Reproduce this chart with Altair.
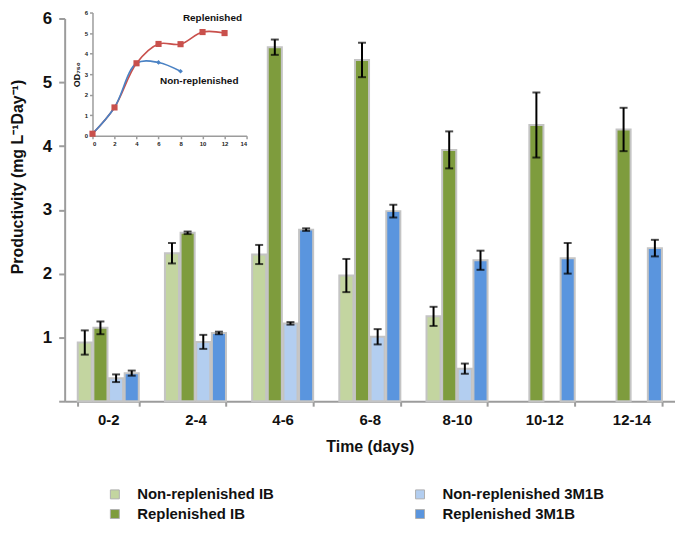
import altair as alt
import pandas as pd

F = "Liberation Sans"

# ---------------- main chart data ----------------
categories = ["0-2", "2-4", "4-6", "6-8", "8-10", "10-12", "12-14"]
series_names = ["Non-replenished IB", "Replenished IB", "Non-replenished 3M1B", "Replenished 3M1B"]
series_colors = ["#c3d5a0", "#7e9c3d", "#b3cef0", "#5a95de"]

nonrep_ib = [0.92, 2.32, 2.30, 1.97, 1.33, None, None]
nonrep_ib_err = [0.19, 0.16, 0.15, 0.26, 0.15, None, None]
rep_ib = [1.15, 2.64, 5.55, 5.35, 3.94, 4.33, 4.26]
rep_ib_err = [0.10, 0.02, 0.12, 0.27, 0.29, 0.51, 0.34]
nonrep_3m1b = [0.36, 0.93, 1.22, 1.01, 0.51, None, None]
nonrep_3m1b_err = [0.06, 0.11, 0.02, 0.12, 0.08, None, None]
rep_3m1b = [0.44, 1.07, 2.69, 2.98, 2.21, 2.24, 2.40]
rep_3m1b_err = [0.04, 0.02, 0.02, 0.10, 0.15, 0.24, 0.13]

y_ticks = [0, 1, 2, 3, 4, 5, 6]

# ---------------- inset data ----------------
inset_days_rep = [0, 2, 4, 6, 8, 10, 12]
inset_od_rep = [0.1, 1.38, 3.53, 4.47, 4.46, 5.05, 5.0]
inset_days_nonrep = [0, 2, 4, 6, 8]
inset_od_nonrep = [0.1, 1.38, 3.53, 3.57, 3.14]
inset_x_ticks = [0, 2, 4, 6, 8, 10, 12, 14]
inset_y_ticks = [0, 1, 2, 3, 4, 5, 6]
ann_text = ["Replenished", "Non-replenished"]
ann_x = [10.9, 9.7]
ann_y = [5.75, 2.66]

# ---------------- build tables ----------------
vals = [nonrep_ib, rep_ib, nonrep_3m1b, rep_3m1b]
errs = [nonrep_ib_err, rep_ib_err, nonrep_3m1b_err, rep_3m1b_err]
rows = []
for s, v, e in zip(series_names, vals, errs):
    for c, vv, ee in zip(categories, v, e):
        if vv is not None:
            rows.append({"cat": c, "series": s, "value": vv, "lo": vv - ee, "hi": vv + ee})
df = pd.DataFrame(rows)

W, H = 614, 385
TOP = 9
GRAY = "#9c9c9c"

x_main = alt.X(
    "cat:N", sort=categories,
    scale=alt.Scale(paddingInner=0.3, paddingOuter=0.15),
    axis=alt.Axis(orient="bottom", tickBand="extent", labelAngle=0,
                  domainColor=GRAY, domainWidth=2, tickColor=GRAY, tickWidth=2, tickSize=5,
                  labelFont=F, labelFontSize=15, labelFontWeight="bold", labelColor="#111",
                  labelPadding=6, titleFont=F, titleFontSize=16, titleFontWeight="bold",
                  titleColor="#111", titlePadding=12),
    title="Time (days)")
xoff = alt.XOffset("series:N", sort=series_names, scale=alt.Scale(paddingInner=0.1))
y_axis = alt.Axis(orient="left", values=y_ticks, format="d",
                  labelExpr="datum.value == 0 ? '' : datum.label",
                  domainColor=GRAY, domainWidth=2, tickColor=GRAY, tickWidth=2, tickSize=6,
                  labelFont=F, labelFontSize=17, labelFontWeight="bold", labelColor="#111",
                  labelPadding=7, titleFont=F, titleFontSize=16, titleFontWeight="bold",
                  titleColor="#111", titleX=-47, titleY=159, titleAngle=270,
                  titleAlign="center", titleBaseline="middle")
y_scale = alt.Scale(domain=[0, 6], nice=False)

bars = alt.Chart(df).mark_bar(stroke="#c4c4c4", strokeWidth=2).encode(
    x=x_main, xOffset=xoff,
    y=alt.Y("value:Q", scale=y_scale, axis=y_axis, title="Productivity (mg L⁻¹Day⁻¹)"),
    color=alt.Color("series:N",
                    scale=alt.Scale(domain=series_names, range=series_colors),
                    legend=alt.Legend(orient="none", legendX=43, legendY=471, columns=2,
                                      columnPadding=139, rowPadding=4, symbolType="square",
                                      symbolSize=81, symbolStrokeColor="#b0b0b0",
                                      symbolStrokeWidth=1, labelFont=F, labelFontSize=15,
                                      labelFontWeight="bold", labelColor="#111",
                                      labelOffset=15, labelLimit=300, padding=0),
                    title=None),
)
err_rule = alt.Chart(df).mark_rule(color="black", strokeWidth=2).encode(
    x=x_main, xOffset=xoff, y=alt.Y("lo:Q", scale=y_scale), y2="hi:Q")
cap_lo = alt.Chart(df).mark_tick(color="black", thickness=2, size=8).encode(
    x=x_main, xOffset=xoff, y=alt.Y("lo:Q", scale=y_scale))
cap_hi = alt.Chart(df).mark_tick(color="black", thickness=2, size=8).encode(
    x=x_main, xOffset=xoff, y=alt.Y("hi:Q", scale=y_scale))

main = alt.layer(bars, err_rule, cap_lo, cap_hi)

# ---------------- inset ----------------
df_rep = pd.DataFrame({"day": inset_days_rep, "od": inset_od_rep})
df_non = pd.DataFrame({"day": inset_days_nonrep, "od": inset_od_nonrep})
df_ann = pd.DataFrame({"day": ann_x, "od": ann_y, "label": ann_text})

INSET_BOTTOM = 118
INSET_TOP = -6
xi_scale = alt.Scale(domain=[0, 14], range=[28, 183], nice=False)
yi_scale = alt.Scale(domain=[0, 6], range=[INSET_BOTTOM, INSET_TOP], nice=False)
xi_axis = alt.Axis(orient="bottom", offset=-(H - INSET_BOTTOM), values=inset_x_ticks,
                   domainColor=GRAY, domainWidth=1.5, tickColor=GRAY, tickWidth=1.5, tickSize=3,
                   labelFont=F, labelFontSize=6, labelFontWeight="bold", labelColor="#222",
                   labelPadding=2, grid=False)
yi_axis = alt.Axis(orient="left", offset=-28, values=inset_y_ticks,
                   domainColor=GRAY, domainWidth=1.5, tickColor=GRAY, tickWidth=1.5, tickSize=3,
                   labelFont=F, labelFontSize=6, labelFontWeight="bold", labelColor="#222",
                   labelPadding=2, titleFont=F, titleFontSize=9, titleFontWeight="bold",
                   titleColor="#111", titlePadding=3, grid=False)
xi = alt.X("day:Q", scale=xi_scale, axis=xi_axis, title=None)
yi = alt.Y("od:Q", scale=yi_scale, axis=yi_axis, title="OD₇₅₀")

rep_line = alt.Chart(df_rep).mark_line(interpolate="catmull-rom", color="#c9504c",
                                       strokeWidth=1.6).encode(x=xi, y=yi)
non_line = alt.Chart(df_non).mark_line(interpolate="catmull-rom", color="#4a82c4",
                                       strokeWidth=1.6).encode(x=xi, y=yi)
non_pts = alt.Chart(df_non).mark_point(shape="diamond", filled=True, size=22, opacity=1,
                                       color="#4a82c4").encode(x=xi, y=yi)
rep_pts = alt.Chart(df_rep).mark_square(size=38, opacity=1, color="#c9504c").encode(x=xi, y=yi)
ann = alt.Chart(df_ann).mark_text(font=F, fontSize=10, fontWeight="bold", color="#111").encode(
    x=xi, y=yi, text="label:N")

inset = alt.layer(rep_line, non_line, non_pts, rep_pts, ann)

chart = alt.layer(main, inset).resolve_scale(x="independent", y="independent").properties(
    width=W, height=H,
    padding={"left": 57, "top": TOP, "right": 0, "bottom": 520 - TOP - H},
    autosize=alt.AutoSizeParams(type="none"),
).configure_view(stroke=None).configure_axis(grid=False)

chart.save("out.html", embed_options={"renderer": "svg", "actions": False})
